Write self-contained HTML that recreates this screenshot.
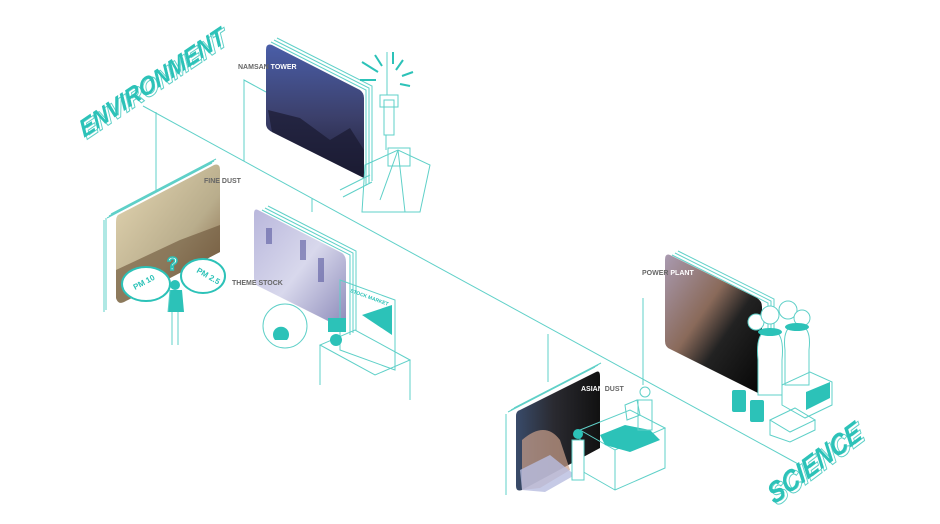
<!DOCTYPE html>
<html><head><meta charset="utf-8"><style>
html,body{margin:0;padding:0;background:#fff;width:940px;height:524px;overflow:hidden}
svg{display:block}
.l{stroke:#5fd0c8;stroke-width:1;fill:none}
.lb{font-family:"Liberation Sans",sans-serif;font-weight:bold;font-size:7px;fill:#666}
</style></head><body>
<svg width="940" height="524" viewBox="0 0 940 524">
<defs>
<linearGradient id="g1" x1="0" y1="0" x2="0" y2="1"><stop offset="0" stop-color="#4a5ea8"/><stop offset=".55" stop-color="#3b3f6a"/><stop offset="1" stop-color="#1e1e35"/></linearGradient>
<linearGradient id="g2" x1="0" y1="0" x2="1" y2="1"><stop offset="0" stop-color="#e6d8b4"/><stop offset=".6" stop-color="#b9ad8c"/><stop offset="1" stop-color="#7a5a3a"/></linearGradient>
<linearGradient id="g3" x1="0" y1="0" x2="1" y2="1"><stop offset="0" stop-color="#b9b7dc"/><stop offset=".5" stop-color="#d8d8ec"/><stop offset="1" stop-color="#8a88b8"/></linearGradient>
<linearGradient id="g4" x1="0" y1="0" x2="1" y2="0"><stop offset="0" stop-color="#394b6a"/><stop offset=".45" stop-color="#2a2a30"/><stop offset="1" stop-color="#111"/></linearGradient>
<linearGradient id="g5" x1="0" y1="0" x2="1" y2="1"><stop offset="0" stop-color="#a99ab0"/><stop offset=".4" stop-color="#8a6a5a"/><stop offset=".6" stop-color="#222"/><stop offset="1" stop-color="#050505"/></linearGradient>
</defs>

<!-- connector lines -->
<path class="l" d="M143 106 L800 465"/>
<path class="l" d="M156 112 V190"/>
<path class="l" d="M266 92 L244 80 V161"/>
<path class="l" d="M312 198 V212"/>
<path class="l" d="M548 334 V382"/>
<path class="l" d="M643 298 V385"/>

<!-- ENVIRONMENT -->
<g transform="translate(84,138) rotate(-34) skewX(-10)">
<text x="2" y="3" textLength="172" lengthAdjust="spacingAndGlyphs" font-family="Liberation Sans,sans-serif" font-weight="bold" font-style="italic" font-size="24" fill="#fff" stroke="#5fd0c8" stroke-width="1">ENVIRONMENT</text>
<text x="0" y="0" textLength="172" lengthAdjust="spacingAndGlyphs" font-family="Liberation Sans,sans-serif" font-weight="bold" font-style="italic" font-size="24" fill="#2cc2b8">ENVIRONMENT</text>
</g>

<!-- SCIENCE -->
<g transform="translate(774,505) rotate(-37) skewX(-10)">
<text x="2" y="3" textLength="112" lengthAdjust="spacingAndGlyphs" font-family="Liberation Sans,sans-serif" font-weight="bold" font-style="italic" font-size="28" fill="#fff" stroke="#5fd0c8" stroke-width="1">SCIENCE</text>
<text x="0" y="0" textLength="112" lengthAdjust="spacingAndGlyphs" font-family="Liberation Sans,sans-serif" font-weight="bold" font-style="italic" font-size="28" fill="#2cc2b8">SCIENCE</text>
</g>

<!-- Namsan panel -->
<g class="l"><path d="M271 42 L366 90 V185 M274 40 L369 88 V183 M277 38 L372 86 V181"/></g>
<path d="M272 45 L360 90 Q364 93 364 98 V178 L272 132 Q266 129 266 124 V50 Q266 43 272 45Z" fill="url(#g1)"/>
<path d="M268 110 L300 118 L330 140 L350 128 L364 150 V178 L272 132 Z" fill="#1a1a30" opacity=".7"/>
<text class="lb" x="238" y="69">NAMSAN <tspan fill="#fff">TOWER</tspan></text>

<!-- Namsan tower -->
<g class="l" stroke-width="1">
<path d="M387 52 V95 M384 100 h10 v35 h-10z M380 95 h18 v12 h-18z M386 135 V150"/>
<path d="M365 165 L398 150 L430 165 L420 212 L362 212 Z M380 200 L398 150 L405 212"/>
<path d="M340 190 L370 175 M343 197 L372 182 M388 148 h22 v18 h-22z"/>
</g>
<g stroke="#2cc2b8" stroke-width="2"><path d="M362 62 L378 72 M375 55 L382 66 M393 52 V64 M403 60 L396 70 M413 72 L402 76 M410 86 L400 84 M360 80 L376 80"/></g>

<!-- Fine dust panel -->
<g class="l"><path d="M107 218 L212 163 M104 220 V312 M109 216 L214 161 M106 218 V310 M111 214 L216 159"/></g>
<path d="M118 215 L214 165 Q220 163 220 170 V252 L124 302 Q118 305 116 298 V222 Q116 217 118 215Z" fill="url(#g2)"/>
<path d="M116 270 L180 240 L220 225 V252 L124 302 Q118 305 116 298Z" fill="#6a5438" opacity=".6"/>
<text class="lb" x="204" y="183">FINE DUST</text>
<g fill="#fff" stroke="#2cc2b8" stroke-width="2">
<ellipse cx="146" cy="284" rx="24" ry="17"/><ellipse cx="203" cy="276" rx="22" ry="17"/>
</g>
<text transform="translate(135,290) rotate(-28)" font-family="Liberation Sans,sans-serif" font-weight="bold" font-size="8" fill="#2cc2b8">PM 10</text>
<text transform="translate(196,272) rotate(30)" font-family="Liberation Sans,sans-serif" font-weight="bold" font-size="8" fill="#2cc2b8">PM 2.5</text>
<text x="167" y="270" font-family="Liberation Sans,sans-serif" font-weight="bold" font-size="18" fill="#fff" stroke="#2cc2b8" stroke-width="1.5">?</text>
<path d="M168 312 L184 312 L182 290 L170 290Z" fill="#2cc2b8"/>
<path class="l" d="M170 290 L168 312 M172 312 V345 M178 312 V345"/>
<circle cx="175" cy="285" r="5" fill="#2cc2b8"/>

<!-- Theme stock panel -->
<g class="l"><path d="M262 210 L350 255 V335 M265 208 L353 253 V333 M268 206 L356 251 V331"/></g>
<path d="M258 210 L342 253 Q346 256 346 262 V330 L258 286 Q254 284 254 278 V214 Q254 208 258 210Z" fill="url(#g3)"/>
<g fill="#5a5aa0" opacity=".6"><rect x="266" y="228" width="6" height="16"/><rect x="300" y="240" width="6" height="20"/><rect x="318" y="258" width="6" height="24"/></g>
<text class="lb" x="232" y="285">THEME STOCK</text>
<circle cx="285" cy="326" r="22" fill="#fff" stroke="#5fd0c8"/>
<path d="M275 340 a8 8 0 1 1 12 0z" fill="#2cc2b8"/>
<g class="l"><path d="M340 280 L395 300 V370 L340 350Z M320 345 L375 375 L410 360 L355 330Z M320 345 V385 M410 360 V400"/></g>
<text transform="translate(350,292) rotate(20)" font-family="Liberation Sans,sans-serif" font-weight="bold" font-size="5" fill="#2cc2b8">STOCK MARKET</text>
<path d="M362 315 L392 305 V335Z" fill="#2cc2b8"/>
<rect x="328" y="318" width="18" height="14" fill="#2cc2b8"/>
<circle cx="336" cy="340" r="6" fill="#2cc2b8"/>

<!-- Asian dust panel -->
<g class="l"><path d="M508 412 L595 367 M506 414 V495 M511 410 L598 365 M514 408 L601 363"/></g>
<path d="M520 410 L596 372 Q600 370 600 376 V448 L522 490 Q516 492 516 486 V416 Q516 411 520 410Z" fill="url(#g4)"/>
<path d="M522 440 Q545 420 560 440 L570 470 L540 488 L522 490Z" fill="#caa08a" opacity=".7"/>
<path d="M520 470 L550 455 L575 475 L545 492 L522 490Z" fill="#b8bde0" opacity=".8"/>
<text class="lb" x="581" y="391"><tspan fill="#fff">ASIAN</tspan> DUST</text>
<g class="l"><path d="M580 430 L630 410 L665 428 L615 450Z M580 430 V470 L615 490 L665 468 V428 M615 450 V490"/></g>
<path d="M600 435 L625 425 L650 430 L660 440 L630 452 L605 445Z" fill="#2cc2b8"/>
<path d="M572 440 h12 v40 h-12z" fill="#fff" stroke="#5fd0c8"/>
<circle cx="578" cy="434" r="5" fill="#2cc2b8"/>
<g class="l"><circle cx="645" cy="392" r="5"/><path d="M638 400 h14 v30 h-14z M625 405 L637 400 L640 415 L627 420Z"/></g>

<!-- Power plant panel -->
<g class="l"><path d="M672 255 L768 303 V392 M675 253 L771 301 V390 M678 251 L774 299 V388"/></g>
<path d="M670 255 L757 298 Q762 301 762 307 V395 L670 349 Q665 347 665 341 V260 Q665 253 670 255Z" fill="url(#g5)"/>
<text class="lb" x="642" y="275">POWER <tspan fill="#fff">PLANT</tspan></text>
<g fill="#fff" stroke="#5fd0c8"><path d="M758 360 Q755 330 770 330 Q785 330 782 360 V395 H758Z"/><path d="M785 350 Q782 325 797 325 Q812 325 809 350 V385 H785Z"/>
<circle cx="756" cy="322" r="8"/><circle cx="770" cy="315" r="9"/><circle cx="788" cy="310" r="9"/><circle cx="802" cy="318" r="8"/></g>
<ellipse cx="770" cy="332" rx="12" ry="4" fill="#2cc2b8"/><ellipse cx="797" cy="327" rx="12" ry="4" fill="#2cc2b8"/>
<g fill="#2cc2b8"><rect x="732" y="390" width="14" height="22" rx="2"/><rect x="750" y="400" width="14" height="22" rx="2"/></g>
<g class="l"><path d="M782 385 L810 372 L832 382 V405 L805 418 L782 405Z M770 420 L795 408 L815 420 L790 432Z M770 420 V435 L790 442 L815 430 V420"/></g>
<path d="M806 392 L830 382 V398 L806 410Z" fill="#2cc2b8"/>
</svg>
</body></html>
